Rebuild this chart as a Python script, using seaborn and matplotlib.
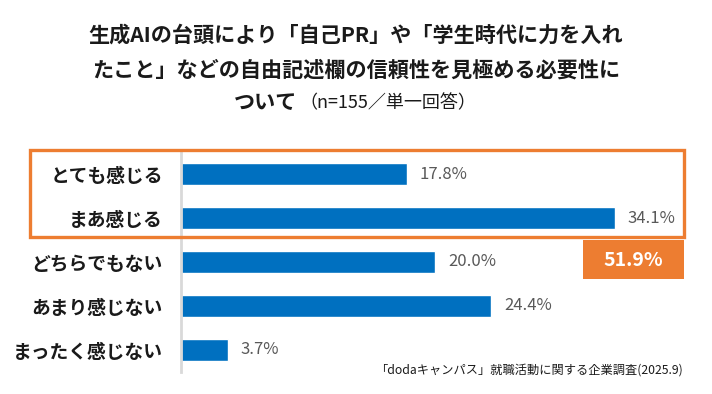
import pandas as pd
import seaborn as sns
import matplotlib.pyplot as plt
from matplotlib.patches import Rectangle

# Data
categories = ['とても感じる', 'まあ感じる', 'どちらでもない', 'あまり感じない', 'まったく感じない']
values = [17.8, 34.1, 20.0, 24.4, 3.7]
highlight_total = '51.9%'

title_lines = ['生成AIの台頭により「自己PR」や「学生時代に力を入れ',
               'たこと」などの自由記述欄の信頼性を見極める必要性に']
title_last_bold = 'ついて'
title_last_normal = '（n=155／単一回答）'
source_note = '「dodaキャンパス」就職活動に関する企業調査(2025.9)'

bar_color = '#0070C0'
orange = '#ED7D31'

sns.set_theme(style='white')
plt.rcParams['font.family'] = ['Noto Sans CJK JP', 'DejaVu Sans']

df = pd.DataFrame({'category': categories, 'value': values})

fig = plt.figure(figsize=(7.12, 3.94), dpi=100)
ax = fig.add_axes([181 / 712, 1 - 372 / 394, (700 - 181) / 712, 220 / 394])

sns.barplot(data=df, y='category', x='value', color=bar_color, width=0.5,
            saturation=1, orient='h', ax=ax)

ax.set_xlim(0, (700 - 182) / 12.7)
ax.set_ylim(4.5, -0.5)
ax.set_xlabel('')
ax.set_ylabel('')
ax.set_xticks([])
ax.tick_params(axis='y', length=0, pad=13, labelsize=13.5)
for lbl in ax.get_yticklabels():
    lbl.set_fontweight('bold')
    lbl.set_color('#1a1a1a')

for side in ['top', 'right', 'bottom']:
    ax.spines[side].set_visible(False)
ax.spines['left'].set_color('#d9d9d9')
ax.spines['left'].set_linewidth(2)

# Value labels next to each bar
for i, v in enumerate(values):
    ax.annotate(f'{v:.1f}%', (v, i), xytext=(9, 0), textcoords='offset points',
                ha='left', va='center', fontsize=12, color='#595959')

# Title
fig.text(0.5, 1 - 35 / 394, title_lines[0], ha='center', va='center',
         fontsize=15.2, fontweight='bold', color='#1a1a1a')
fig.text(0.5, 1 - 70 / 394, title_lines[1], ha='center', va='center',
         fontsize=15.2, fontweight='bold', color='#1a1a1a')
fig.text(297 / 712, 1 - 103 / 394, title_last_bold, ha='right', va='center',
         fontsize=15.2, fontweight='bold', color='#1a1a1a')
fig.text(299 / 712, 1 - 103 / 394, title_last_normal, ha='left', va='center',
         fontsize=13, color='#1a1a1a')

# Orange frame around the top two answers
fig.patches.append(Rectangle((30 / 712, 1 - 237 / 394), 654 / 712, 87 / 394,
                             transform=fig.transFigure, fill=False,
                             edgecolor=orange, linewidth=2.4, zorder=5))
# Orange total box
fig.patches.append(Rectangle((583 / 712, 1 - 279 / 394), 101 / 712, 39 / 394,
                             transform=fig.transFigure, facecolor=orange,
                             edgecolor='none', zorder=5))
fig.text(633.5 / 712, 1 - 260 / 394, highlight_total, ha='center', va='center',
         fontsize=14, fontweight='bold', color='white', zorder=6)

# Source
fig.text(683 / 712, 1 - 370 / 394, source_note, ha='right', va='center',
         fontsize=8.8, color='#1a1a1a')

fig.savefig('out.png', dpi=100)
